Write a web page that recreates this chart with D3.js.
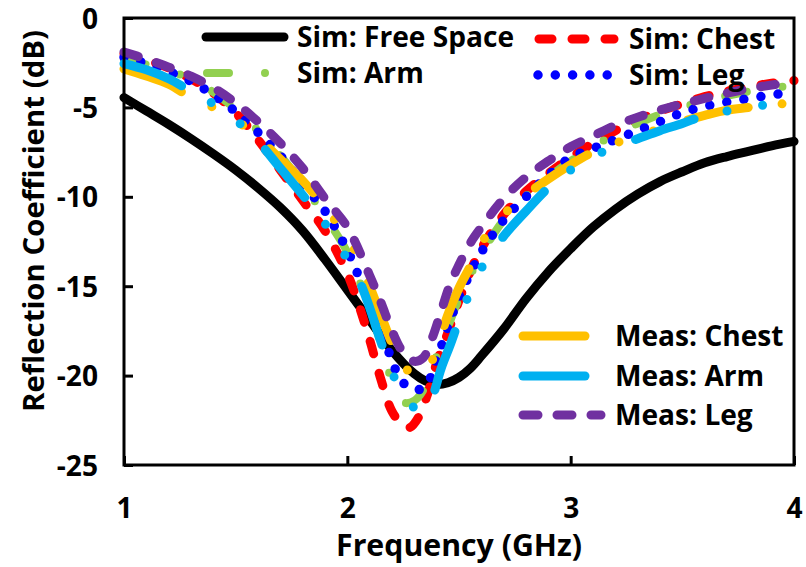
<!DOCTYPE html>
<html>
<head>
<meta charset="utf-8">
<script src="https://cdn.jsdelivr.net/npm/d3@7/dist/d3.min.js"></script>
<style>
  html, body { margin: 0; padding: 0; background: #fff; }
  svg { display: block; }
  text { font-family: "Open Sans", Lato, sans-serif; font-weight: bold; fill: #000; }
</style>
</head>
<body>
<svg id="chart" width="806" height="567"></svg>
<script>
// ---------------- data ----------------
const xTicks = [1, 2, 3, 4];
const yTicks = [0, -5, -10, -15, -20, -25];

const freeSpaceF  = [1.0,1.1,1.2,1.3,1.4,1.5,1.6,1.7,1.8,1.9,2.0,2.1,2.2,2.3,2.35,2.4,2.45,2.5,2.55,2.6,2.7,2.8,2.9,3.0,3.1,3.2,3.3,3.4,3.5,3.6,3.7,3.8,3.9,4.0];
const freeSpaceDb = [-4.45,-5.2,-5.95,-6.75,-7.6,-8.5,-9.5,-10.6,-11.9,-13.5,-15.2,-16.9,-18.6,-19.9,-20.3,-20.5,-20.4,-20.1,-19.6,-18.9,-17.4,-15.7,-14.2,-12.9,-11.7,-10.7,-9.85,-9.15,-8.6,-8.1,-7.75,-7.45,-7.15,-6.9];

const simChestF  = [1.0,1.1,1.2,1.3,1.4,1.5,1.6,1.7,1.8,1.9,2.0,2.05,2.1,2.15,2.2,2.25,2.28,2.32,2.36,2.4,2.45,2.5,2.55,2.6,2.7,2.8,2.9,3.0,3.1,3.2,3.3,3.4,3.5,3.6,3.7,3.8,3.9,4.0];
const simChestDb = [-2.0,-2.35,-2.8,-3.4,-4.2,-5.3,-6.8,-8.5,-10.2,-11.9,-14.3,-16.0,-18.0,-20.2,-22.0,-22.8,-22.9,-22.3,-21.0,-19.3,-17.6,-15.8,-14.2,-12.9,-11.0,-9.7,-8.7,-7.8,-7.0,-6.3,-5.7,-5.2,-4.8,-4.4,-4.1,-3.85,-3.65,-3.5];

const simArmF  = [1.0,1.1,1.2,1.3,1.4,1.5,1.6,1.7,1.8,1.9,2.0,2.05,2.1,2.15,2.2,2.25,2.3,2.35,2.4,2.45,2.5,2.55,2.6,2.7,2.8,2.9,3.0,3.1,3.2,3.3,3.4,3.5,3.6,3.7,3.8,3.9,4.0];
const simArmDb = [-2.3,-2.6,-2.95,-3.4,-4.15,-5.1,-6.3,-7.7,-9.3,-11.1,-13.1,-14.6,-16.2,-18.2,-20.3,-21.5,-21.4,-20.6,-18.9,-17.3,-15.7,-14.4,-13.2,-11.3,-9.95,-8.9,-8.0,-7.2,-6.5,-5.9,-5.4,-5.0,-4.65,-4.35,-4.1,-3.9,-3.8];

const simLegF  = [1.0,1.1,1.2,1.3,1.4,1.5,1.6,1.7,1.8,1.9,2.0,2.05,2.1,2.15,2.2,2.25,2.3,2.35,2.4,2.45,2.5,2.55,2.6,2.7,2.8,2.9,3.0,3.1,3.2,3.3,3.4,3.5,3.6,3.7,3.8,3.9,4.0];
const simLegDb = [-2.2,-2.55,-3.0,-3.55,-4.3,-5.25,-6.4,-7.7,-9.3,-10.8,-13.0,-14.4,-15.6,-17.1,-19.2,-20.4,-20.8,-20.6,-19.1,-17.3,-15.6,-14.3,-13.1,-11.3,-10.0,-8.8,-7.8,-7.3,-6.8,-6.3,-5.8,-5.3,-4.95,-4.7,-4.5,-4.3,-4.15];

const measChestF  = [1.0,1.1,1.2,1.3,1.4,1.5,1.6,1.7,1.8,1.9,2.0,2.05,2.1,2.15,2.2,2.25,2.3,2.33,2.37,2.41,2.45,2.5,2.55,2.6,2.7,2.8,2.9,3.0,3.1,3.2,3.3,3.4,3.5,3.6,3.7,3.8,3.9,4.0];
const measChestDb = [-2.85,-3.25,-3.7,-4.45,-5.0,-5.7,-6.7,-7.9,-9.1,-10.6,-12.3,-13.4,-15.0,-16.6,-18.2,-19.4,-20.0,-20.0,-19.4,-18.1,-16.6,-15.1,-13.9,-12.6,-11.0,-9.9,-9.0,-8.2,-7.5,-7.0,-6.6,-6.2,-5.8,-5.45,-5.15,-5.0,-4.85,-4.75];

const measArmF  = [1.0,1.1,1.2,1.3,1.4,1.5,1.6,1.7,1.8,1.9,2.0,2.05,2.1,2.15,2.2,2.25,2.3,2.34,2.38,2.42,2.46,2.5,2.55,2.6,2.7,2.8,2.9,3.0,3.1,3.2,3.3,3.4,3.5,3.6,3.7,3.8,3.9,4.0];
const measArmDb = [-2.55,-2.9,-3.4,-4.1,-4.8,-5.7,-6.9,-8.4,-9.9,-11.5,-13.5,-14.6,-16.2,-18.1,-19.8,-21.1,-21.8,-22.0,-21.2,-19.6,-18.3,-16.9,-15.3,-14.0,-12.2,-10.8,-9.5,-8.5,-7.75,-7.2,-6.75,-6.3,-5.9,-5.45,-5.2,-5.0,-4.8,-4.6];

const measLegF  = [1.0,1.1,1.2,1.3,1.4,1.5,1.6,1.7,1.8,1.9,2.0,2.1,2.15,2.2,2.25,2.3,2.34,2.38,2.42,2.46,2.5,2.55,2.6,2.7,2.8,2.9,3.0,3.1,3.2,3.3,3.4,3.5,3.6,3.7,3.8,3.9,4.0];
const measLegDb = [-1.9,-2.3,-2.75,-3.25,-3.9,-4.75,-5.8,-7.0,-8.4,-10.1,-11.7,-14.4,-15.9,-17.5,-18.7,-19.2,-19.0,-17.9,-16.4,-14.9,-13.8,-12.6,-11.7,-10.1,-8.9,-8.0,-7.2,-6.6,-6.0,-5.55,-5.15,-4.8,-4.5,-4.2,-3.95,-3.75,-3.6];

const seriesNames = ["Sim: Free Space","Sim: Chest","Sim: Arm","Sim: Leg","Meas: Chest","Meas: Arm","Meas: Leg"];

// ---------------- styles ----------------
const styles = {
  "Sim: Free Space": { color: "#000000", width: 9,   dash: null },
  "Sim: Chest":      { color: "#FF0000", width: 9,   dash: "13,20" },
  "Sim: Arm":        { color: "#92D050", width: 8,   dash: "22,36,0,36" },
  "Sim: Leg":        { color: "#0000FF", width: 9.5, dash: "0,17.3" },
  "Meas: Chest":     { color: "#FFC000", width: 9,   dash: "62,34,0,36,0,36" },
  "Meas: Arm":       { color: "#00B0F0", width: 9,   dash: "62,34,0,36,0,36" },
  "Meas: Leg":       { color: "#7030A0", width: 9,   dash: "15,19" }
};

const seriesData = {
  "Sim: Free Space": [freeSpaceF, freeSpaceDb],
  "Sim: Chest": [simChestF, simChestDb],
  "Sim: Arm": [simArmF, simArmDb],
  "Sim: Leg": [simLegF, simLegDb],
  "Meas: Chest": [measChestF, measChestDb],
  "Meas: Arm": [measArmF, measArmDb],
  "Meas: Leg": [measLegF, measLegDb]
};

// ---------------- chart ----------------
const svg = d3.select("#chart");
const L = 124, R = 794, T = 18, B = 465;
const x = d3.scaleLinear().domain([1, 4]).range([L, R]);
const y = d3.scaleLinear().domain([0, -25]).range([T, B]);

const line = d3.line().x(d => x(d[0])).y(d => y(d[1])).curve(d3.curveCatmullRom.alpha(0.5));

// fit a text element's font size to a target width
function fit(sel, target) {
  const w = sel.node().getComputedTextLength();
  const fs = parseFloat(sel.style("font-size"));
  sel.style("font-size", (fs * target / w).toFixed(2) + "px");
  return fs * target / w;
}

const plot = svg.append("g");
seriesNames.forEach(name => {
  const [fs, vs] = seriesData[name];
  const pts = fs.map((f, i) => [f, vs[i]]);
  const s = styles[name];
  plot.append("path")
    .attr("d", line(pts))
    .attr("fill", "none")
    .attr("stroke", s.color)
    .attr("stroke-width", s.width)
    .attr("stroke-linecap", "round")
    .attr("stroke-linejoin", "round")
    .attr("stroke-dasharray", s.dash);
});

// frame
svg.append("rect").attr("x", L).attr("y", T).attr("width", R - L).attr("height", B - T)
  .attr("fill", "none").attr("stroke", "#000").attr("stroke-width", 3);

// legend (sizes fitted to reference widths)
const legendItems = [
  { name: "Sim: Free Space", x0: 206, x1: 284, ly: 37, tx: 297 },
  { name: "Sim: Chest",      x0: 539, x1: 614, ly: 39, tx: 629 },
  { name: "Sim: Arm",        x0: 207, x1: 284, ly: 73, tx: 297 },
  { name: "Sim: Leg",        x0: 538, x1: 614, ly: 75, tx: 629 },
  { name: "Meas: Chest",     x0: 523, x1: 601, ly: 336, tx: 615 },
  { name: "Meas: Arm",       x0: 523, x1: 601, ly: 376, tx: 615 },
  { name: "Meas: Leg",       x0: 523, x1: 601, ly: 415, tx: 615 }
];
const lg = svg.append("g");
const legTexts = [];
legendItems.forEach(it => {
  const s = styles[it.name];
  lg.append("line").attr("x1", it.x0).attr("x2", it.x1).attr("y1", it.ly).attr("y2", it.ly)
    .attr("stroke", s.color).attr("stroke-width", s.width)
    .attr("stroke-linecap", "round").attr("stroke-dasharray", s.dash);
  legTexts.push(lg.append("text").attr("x", it.tx).attr("y", it.ly).attr("dy", "0.36em")
    .style("font-size", "28px").text(it.name));
});
const legSize = fit(legTexts[0], 217);
legTexts.forEach(t => t.style("font-size", legSize.toFixed(2) + "px"));

// axes (ticks inward)
const yAxis = d3.axisLeft(y).tickValues(yTicks).tickSize(-9).tickFormat(d => String(d));
const gy = svg.append("g").attr("transform", `translate(${L},0)`).call(yAxis);
gy.select(".domain").remove();
gy.selectAll(".tick line").attr("stroke", "#000").attr("stroke-width", 3);
gy.selectAll(".tick text").attr("x", -26).attr("dy", "0.36em")
  .style("font-size", legSize.toFixed(2) + "px").style("font-family", "'Open Sans', sans-serif").style("font-weight", "bold");

const xAxis = d3.axisBottom(x).tickValues(xTicks).tickSize(-9).tickFormat(d => String(d));
const gx = svg.append("g").attr("transform", `translate(0,${B})`).call(xAxis);
gx.select(".domain").remove();
gx.selectAll(".tick line").attr("stroke", "#000").attr("stroke-width", 3);
gx.selectAll(".tick text").attr("y", 43).attr("dy", "0.36em")
  .style("font-size", legSize.toFixed(2) + "px").style("font-family", "'Open Sans', sans-serif").style("font-weight", "bold");

// axis titles
const xt = svg.append("text").attr("x", 459).attr("y", 556).attr("text-anchor", "middle")
  .style("font-size", "30px").text("Frequency (GHz)");
fit(xt, 246);
const yt = svg.append("text").attr("transform", "translate(44,221) rotate(-90)").attr("text-anchor", "middle")
  .style("font-size", "30px").text("Reflection Coefficient (dB)");
fit(yt, 382);
</script>
</body>
</html>
